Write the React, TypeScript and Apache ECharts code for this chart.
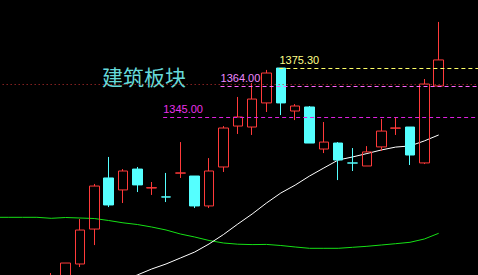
import React, { useEffect, useRef } from "react";
import * as echarts from "echarts";

// ---- data ----
const categories = [
  "D01", "D02", "D03", "D04", "D05", "D06", "D07", "D08", "D09", "D10",
  "D11", "D12", "D13", "D14", "D15", "D16", "D17", "D18", "D19", "D20",
  "D21", "D22", "D23", "D24", "D25", "D26", "D27", "D28", "D29", "D30",
  "D31", "D32", "D33", "D34", "D35",
];

// [open, close, low, high]
const candles: (number[] | string)[] = [
  "-", "-", "-", "-",
  [1240.0, 1246.0, 1238.0, 1248.5],
  [1244.0, 1254.7, 1242.0, 1254.7],
  [1254.1, 1275.1, 1252.2, 1281.9],
  [1275.7, 1302.3, 1265.8, 1303.6],
  [1307.3, 1290.6, 1289.3, 1320.3],
  [1299.9, 1311.6, 1291.8, 1312.8],
  [1312.8, 1303.0, 1298.6, 1314.1],
  [1301.1, 1301.3, 1296.8, 1304.8],
  [1295.6, 1295.5, 1292.4, 1310.4],
  [1310.3, 1310.4, 1307.3, 1329.5],
  [1308.5, 1290.0, 1288.7, 1308.5],
  [1290.0, 1311.6, 1288.7, 1319.6],
  [1314.1, 1338.2, 1311.0, 1339.4],
  [1339.4, 1345.0, 1334.5, 1357.4],
  [1338.8, 1356.1, 1333.9, 1366.0],
  [1353.7, 1372.2, 1348.1, 1374.1],
  [1375.3, 1353.7, 1346.2, 1375.3],
  [1348.7, 1351.8, 1343.1, 1353.0],
  [1351.2, 1328.9, 1328.9, 1351.8],
  [1325.2, 1329.5, 1322.7, 1341.9],
  [1328.9, 1318.4, 1306.0, 1329.5],
  [1316.6, 1316.5, 1311.6, 1325.8],
  [1314.7, 1323.4, 1314.7, 1327.0],
  [1326.5, 1336.3, 1324.0, 1343.8],
  [1338.1, 1338.2, 1333.9, 1344.8],
  [1338.8, 1321.5, 1315.3, 1338.8],
  [1316.6, 1365.4, 1315.9, 1368.5],
  [1364.2, 1380.3, 1364.2, 1403.8],
  "-", "-", "-",
];

const maWhite: (number | string)[] = [
  "-", "-", "-", "-", "-", "-", "-", "-", "-",
  1243.6, 1247.3, 1251.0, 1254.1, 1257.8, 1261.5, 1266.5, 1272.3, 1278.8,
  1285.0, 1291.8, 1298.0, 1302.9, 1308.5, 1313.5, 1318.4, 1320.3, 1322.4,
  1324.6, 1326.4, 1327.1, 1330.2, 1333.9,
  "-", "-", "-",
];

const maGreen: (number | string)[] = [
  1282.97, 1282.97, 1282.97, 1282.97, 1282.35, 1282.85, 1282.54, 1282.23,
  1280.99, 1279.57, 1278.52, 1276.97, 1275.12, 1272.65, 1270.79, 1268.63,
  1267.08, 1266.34, 1266.09, 1266.21, 1265.53, 1264.61, 1263.8, 1263.8,
  1263.8, 1264.42, 1265.04, 1265.84, 1266.65, 1267.51, 1269.55, 1273.08,
  "-", "-", "-",
];

const levelValues = [1345.0, 1364.0, 1375.3];
const levelStartIndex = [11.8, 15.8, 19.9];
const levelLabels = ["1345.00", "1364.00", "1375.30"];
const refLevel = 1365.4;
const titleText = "建筑板块";

// ---- styles ----
const UP = "#ff3a3a";
const DOWN = "#55ffff";
const levelLineColors = ["#e020e0", "#ff66ff", "#ffff66"];
const levelTextColors = ["#e832e8", "#ee88ff", "#ffff88"];

export default function App() {
  const ref = useRef<HTMLDivElement>(null);

  useEffect(() => {
    document.body.style.margin = "0";
    document.body.style.background = "#000";
    const chart = echarts.init(ref.current!, undefined, { renderer: "svg" });
    const n = categories.length;
    const yMin = 1247.29;
    const yMax = 1417.36;

    const levelMark = levelValues.map((v, i) => [
      {
        coord: [levelStartIndex[i], v],
        lineStyle: { color: levelLineColors[i], type: [4, 3], width: 1 },
        label: {
          show: true,
          position: "insideStartTop",
          formatter: levelLabels[i],
          color: levelTextColors[i],
          fontSize: 11,
          fontFamily: "Liberation Sans",
          distance: [0, 3],
        },
      },
      { coord: [n - 0.5, v] },
    ]);

    chart.setOption({
      animation: false,
      backgroundColor: "#000",
      grid: {
        left: -13.35,
        top: 0,
        width: 14.35 * n,
        height: 275,
        outerBoundsMode: "none",
        containLabel: false,
      },
      xAxis: [
        {
          type: "category",
          data: categories,
          show: false,
          boundaryGap: true,
        },
        {
          type: "value",
          min: -0.5,
          max: n - 0.5,
          show: false,
        },
      ],
      yAxis: {
        type: "value",
        min: yMin,
        max: yMax,
        show: false,
        splitLine: { show: false },
      },
      graphic: [
        {
          type: "text",
          left: 102,
          top: 65,
          style: {
            text: titleText,
            fill: "#66d9d9",
            font: '21px "Noto Sans CJK SC"',
          },
        },
      ],
      series: [
        {
          type: "line",
          data: maGreen,
          showSymbol: false,
          lineStyle: { color: "#16e016", width: 1 },
          z: 2,
        },
        {
          type: "line",
          data: maWhite,
          showSymbol: false,
          lineStyle: { color: "#ffffff", width: 1 },
          z: 2,
        },
        {
          type: "candlestick",
          data: candles,
          barWidth: 10,
          itemStyle: {
            color: "transparent",
            color0: DOWN,
            borderColor: UP,
            borderColor0: DOWN,
            borderWidth: 1,
          },
          markLine: {
            silent: true,
            symbol: ["none", "none"],
            label: { show: false },
            lineStyle: { color: "#c83232", type: [1, 3], width: 1 },
            data: [{ yAxis: refLevel }],
          },
          z: 3,
        },
        {
          type: "line",
          xAxisIndex: 1,
          data: [],
          showSymbol: false,
          markLine: {
            silent: true,
            symbol: ["none", "none"],
            data: levelMark,
          },
          z: 4,
        },
      ],
    });
    return () => chart.dispose();
  }, []);

  return (
    <div
      ref={ref}
      style={{ position: "fixed", left: 0, top: 0, width: 478, height: 275 }}
    />
  );
}
